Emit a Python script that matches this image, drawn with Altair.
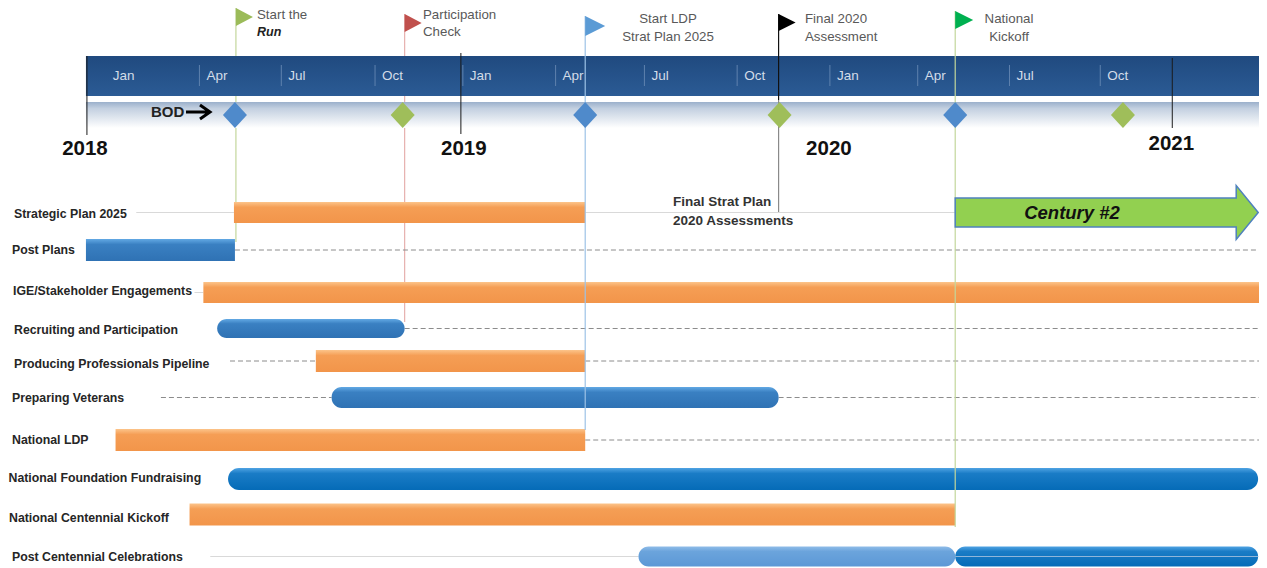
import altair as alt
import pandas as pd

FONT = "Liberation Sans"
# ---------- data ----------
tasks = ["Strategic Plan 2025", "Post Plans", "IGE/Stakeholder Engagements",
         "Recruiting and Participation", "Producing Professionals Pipeline",
         "Preparing Veterans", "National LDP", "National Foundation Fundraising",
         "National Centennial Kickoff", "Post Centennial Celebrations"]

bar_tasks  = [0, 1, 2, 3, 4, 5, 6, 7, 8, 9, 9]
bar_starts = ["2018-05-06", "2017-12-07", "2018-04-05", "2018-04-19", "2018-07-28", "2018-08-13",
              "2018-01-06", "2018-04-30", "2018-03-22", "2019-06-20", "2020-05-06"]
bar_ends   = ["2019-04-27", "2018-05-07", "2021-03-18", "2018-10-26", "2019-04-27", "2019-11-09",
              "2019-04-27", "2021-03-09", "2020-05-06", "2020-05-06", "2021-03-09"]
bar_kinds  = ["orange", "blue", "orange", "round", "orange", "round",
              "orange", "deep", "orange", "pale", "deep"]

dash_tasks  = [1, 3, 4, 4, 5, 5, 6]
dash_starts = ["2018-05-07", "2018-10-26", "2018-05-02", "2019-04-27", "2018-02-21", "2019-11-09", "2019-04-27"]
dash_ends   = ["2021-03-08", "2021-03-16", "2018-07-28", "2021-03-15", "2018-08-13", "2021-03-11", "2021-03-11"]

thin_tasks  = [0, 0, 2, 9, 9]
thin_starts = ["2018-01-27", "2019-04-27", "2018-03-27", "2018-04-12", "2020-05-06"]
thin_ends   = ["2018-05-06", "2020-05-06", "2018-04-05", "2019-06-20", "2021-03-09"]

month_labels = ["Jan", "Apr", "Jul", "Oct", "Jan", "Apr", "Jul", "Oct", "Jan", "Apr", "Jul", "Oct"]
month_dates  = ["2017-12-27", "2018-04-01", "2018-06-23", "2018-09-26", "2018-12-24", "2019-03-28",
                "2019-06-26", "2019-09-28", "2019-12-31", "2020-03-29", "2020-06-30", "2020-09-30"]

year_labels = ["2018", "2019", "2020", "2021"]
year_dates  = ["2017-12-06", "2018-12-25", "2019-12-30", "2020-12-11"]
rule_dates  = ["2017-12-08", "2018-12-22", "2020-12-12"]

diamond_dates = ["2018-05-07", "2018-10-24", "2019-04-27", "2019-11-10", "2020-05-06", "2020-10-23"]
diamond_cols  = ["#4F8ACB", "#9FBE5A", "#4F8ACB", "#9FBE5A", "#4F8ACB", "#9FBE5A"]

flag_dates = ["2018-05-08", "2018-10-26", "2019-04-27", "2019-11-09", "2020-05-06"]

# ---------- layout ----------
W, H = 1251, 560
OFF = 8
row_centres = [212.5, 250, 292.5, 328.5, 361, 397.5, 440, 479, 514.5, 556.5]
x_scale = alt.Scale(type="utc", domain=["2017-09-19", "2021-03-18"], range=[0, 1259], padding=0)
y_scale = alt.Scale(domain=list(range(10)), range=[c - OFF for c in row_centres], zero=False, nice=False, padding=0)
X = lambda f: alt.X(f + ":T", scale=x_scale, axis=None)
Y = alt.Y("row:Q", scale=y_scale, axis=None)
px = lambda v: alt.value(v - OFF)


def grad(top, bottom, mid=None):
    stops = [alt.GradientStop(offset=0, color=top)]
    if mid:
        stops.append(alt.GradientStop(offset=0.25, color=mid))
    stops.append(alt.GradientStop(offset=1, color=bottom))
    return alt.Gradient(gradient="linear", x1=0, y1=0, x2=0, y2=1, stops=stops)


def text_at(s, x, y, size=13.3, weight="normal", style="normal", color="#595959", align="left"):
    return alt.Chart(pd.DataFrame({"t": [s]})).mark_text(
        font=FONT, fontSize=size, fontWeight=weight, fontStyle=style, color=color,
        align=align, baseline="middle").encode(x=px(x), y=px(y), text="t:N")


def span(start, end, top, bottom, fill):
    d = pd.DataFrame({"a": [start], "b": [end]})
    return alt.Chart(d).mark_rect(fill=fill).encode(x=X("a"), x2="b:T", y=px(top), y2=px(bottom))


def pole(date, top, bottom, color, width=1.2):
    d = pd.DataFrame({"a": [date]})
    return alt.Chart(d).mark_rule(color=color, strokeWidth=width).encode(x=X("a"), y=px(top), y2=px(bottom))


def flag(date, top, w, h, color):
    d = pd.DataFrame({"a": [date]})
    return alt.Chart(d).mark_point(shape=f"M0,0L{w},{h / 2}L0,{h}Z", size=4, filled=True, color=color,
                                   opacity=1).encode(x=X("a"), y=px(top))


layers = []

# poles that pass behind the band
layers += [pole(flag_dates[0], 8, 242, "#C3D69B"), pole(flag_dates[1], 14, 322, "#E6B0AE")]

# timeline band
layers.append(span("2017-12-07", "2021-03-18", 102, 128, grad("#9BB0CB", "#FFFFFF", "#C3D0E0")))
layers.append(span("2017-12-07", "2021-03-18", 56, 96, grad("#204A7F", "#2B5B95")))

# dividers and month labels
months = pd.DataFrame({"a": month_dates, "t": month_labels})
layers.append(alt.Chart(months.iloc[1:]).mark_rule(color="#5F82AE", strokeWidth=1).encode(
    x=X("a"), y=px(65), y2=px(86)))
layers.append(alt.Chart(months).mark_text(font=FONT, fontSize=13.5, color="#D3DCE8", align="left", dx=7,
                                          baseline="middle").encode(x=X("a"), y=px(76), text="t:N"))

# year rules and labels
rules = pd.DataFrame({"a": rule_dates, "top": [56, 53, 58], "bot": [135, 134, 128]})
for _, r in rules.iterrows():
    layers.append(pole(r["a"], int(r["top"]), int(r["bot"]), "#1A1A1A", 1))
for lab, d, yy in zip(year_labels, year_dates, [149, 149, 149, 144]):
    layers.append(alt.Chart(pd.DataFrame({"a": [d], "t": [lab]})).mark_text(
        font=FONT, fontSize=20.5, fontWeight="bold", color="#111111", align="center", baseline="middle"
    ).encode(x=X("a"), y=px(yy), text="t:N"))

# row connectors
dashes = pd.DataFrame({"a": dash_starts, "b": dash_ends, "row": dash_tasks})
thins = pd.DataFrame({"a": thin_starts, "b": thin_ends, "row": thin_tasks})
layers.append(alt.Chart(thins).mark_rule(color="#D9D9D9", strokeWidth=1).encode(x=X("a"), x2="b:T", y=Y))
layers.append(alt.Chart(dashes).mark_rule(color="#8C8C8C", strokeWidth=1, strokeDash=[5, 3]).encode(
    x=X("a"), x2="b:T", y=Y))

# task bars
kinds = {
    "orange": (grad("#FCC48A", "#F2954A", "#F59E55"), 0),
    "blue": (grad("#62A9E4", "#2F72B4", "#3A80C2"), 0),
    "round": (grad("#62A9E4", "#2F72B4", "#3A80C2"), 10),
    "deep": (grad("#4FA3E3", "#056BB7", "#1A7CC6"), 11),
    "pale": (grad("#8FBCE8", "#5C98D6", "#6BA4DC"), 10),
}
sizes = [21, 22, 21, 19, 22, 21, 22, 22, 22, 20, 20]
for i in range(len(bar_tasks)):
    d = pd.DataFrame({"a": [bar_starts[i]], "b": [bar_ends[i]], "row": [bar_tasks[i]]})
    fill, radius = kinds[bar_kinds[i]]
    layers.append(alt.Chart(d).mark_rect(fill=fill, height=sizes[i], cornerRadius=radius).encode(
        x=X("a"), x2="b:T", y=Y))
layers.append(alt.Chart(thins.iloc[[4]]).mark_rule(color="#8FB6DA", strokeWidth=1).encode(
    x=X("a"), x2="b:T", y=Y))

# poles over the bars
layers += [pole(flag_dates[2], 16, 430, "#9DC3E6"),
           pole(flag_dates[3], 14, 100, "#111111"),
           pole(flag_dates[3], 100, 212, "#8A8A8A"),
           pole(flag_dates[4], 11, 527, "#C3D69B")]

# flags
layers += [flag(flag_dates[0], 8, 17, 18, "#9BBB59"),
           flag(flag_dates[1], 14, 17, 18, "#C0504D"),
           flag(flag_dates[2], 16, 20, 20, "#5B9BD5"),
           flag(flag_dates[3], 14, 17, 17, "#000000"),
           flag(flag_dates[4], 11, 18, 18, "#00B050")]

# diamonds
dia = pd.DataFrame({"a": diamond_dates, "c": diamond_cols})
layers.append(alt.Chart(dia).mark_point(shape="M0,-13L12,0L0,13L-12,0Z", size=4, filled=True, opacity=1).encode(
    x=X("a"), y=px(115), color=alt.Color("c:N", scale=None)))

# Century arrow
layers.append(alt.Chart(pd.DataFrame({"a": ["2020-05-06"], "row": [0]})).mark_point(
    shape="M0,-14.5H281V-27L303,0L281,27V14.5H0Z", size=4, filled=True, fill="#92D050", stroke="#4F81BD",
    strokeWidth=1.5, opacity=1).encode(x=X("a"), y=Y))
layers.append(text_at("Century #2", 1072, 213, 18.5, "bold", "italic", "#111111", "center"))

# BOD arrow
layers.append(alt.Chart(pd.DataFrame({"a": [0]})).mark_point(
    shape="M0,0H23M14,-7L24,0L14,7", size=4, filled=False, stroke="#000000", strokeWidth=3, opacity=1).encode(
    x=px(186), y=px(112)))
layers.append(text_at("BOD", 151, 112, 15, "bold", color="#222222"))

# row labels
label_x = [14, 12, 13, 14, 14, 12, 12, 8.5, 9, 12]
label_y = [214, 250, 291, 330, 364, 398, 440, 478, 518, 557]
for name, lx, ly in zip(tasks, label_x, label_y):
    layers.append(text_at(name, lx, ly, 12.3, "bold", color="#262626"))

# milestone captions
layers += [text_at("Start the", 257, 15), text_at("Run", 257, 32, 12.5, "bold", "italic", "#222222"),
           text_at("Participation", 423, 15), text_at("Check", 423, 32),
           text_at("Start LDP", 668, 19, align="center"), text_at("Strat Plan 2025", 668, 37, align="center"),
           text_at("Final  2020", 805, 19), text_at("Assessment", 805, 37),
           text_at("National", 1009, 19, align="center"), text_at("Kickoff", 1009, 37, align="center"),
           text_at("Final Strat Plan", 673, 202, 13.5, "bold", color="#333333"),
           text_at("2020 Assessments", 673, 221, 13.5, "bold", color="#333333")]

chart = alt.layer(*layers).properties(
    width=W, height=H, padding=0, autosize=alt.AutoSizeParams(type="none"), background="white"
).configure_view(stroke=None)

chart.save("out.html", embed_options={"renderer": "svg", "actions": False})
